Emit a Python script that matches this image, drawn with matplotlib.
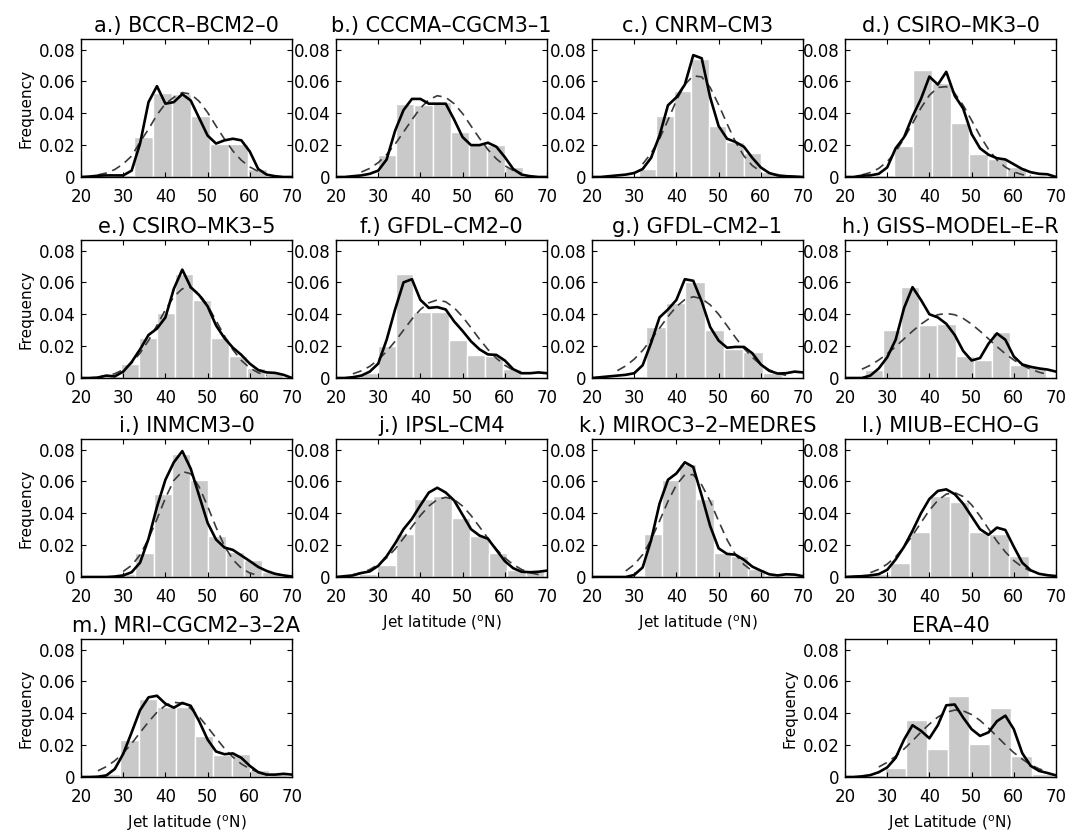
import numpy as np
import matplotlib
matplotlib.use("Agg")
import matplotlib.pyplot as plt

plt.rcParams["font.family"] = ["DejaVu Sans"]

# latitude grid on which the curves were read (deg N)
LAT = list(range(20, 71, 2))

TITLES = [
    "a.) BCCR–BCM2–0", "b.) CCCMA–CGCM3–1", "c.) CNRM–CM3", "d.) CSIRO–MK3–0",
    "e.) CSIRO–MK3–5", "f.) GFDL–CM2–0", "g.) GFDL–CM2–1", "h.) GISS–MODEL–E–R",
    "i.) INMCM3–0", "j.) IPSL–CM4", "k.) MIROC3–2–MEDRES", "l.) MIUB–ECHO–G",
    "m.) MRI–CGCM2–3–2A", "ERA–40",
]

# histogram bin edges and frequencies
EDGES = [
    [28.1, 32.6, 37.1, 41.6, 46.1, 50.6, 55.1, 59.6, 64.1],
    [30.0, 34.3, 38.6, 42.9, 47.2, 51.5, 55.8, 60.1, 64.4],
    [31.1, 35.25, 39.4, 43.55, 47.7, 51.85, 56.0, 60.15, 64.3],
    [27.0, 31.5, 36.0, 40.5, 45.0, 49.5, 54.0, 58.5, 63.0, 67.5],
    [25.3, 29.55, 33.8, 38.05, 42.3, 46.55, 50.8, 55.05, 59.3, 63.55, 67.8],
    [25.6, 29.85, 34.1, 38.35, 42.6, 46.85, 51.1, 55.35, 59.6, 63.85],
    [28.3, 32.9, 37.5, 42.1, 46.7, 51.3, 55.9, 60.5, 65.1],
    [24.7, 29.0, 33.3, 37.6, 41.9, 46.2, 50.5, 54.8, 59.1, 63.4, 67.7],
    [28.6, 32.9, 37.2, 41.5, 45.8, 50.1, 54.4, 58.7, 63.0, 67.3],
    [25.4, 29.8, 34.2, 38.6, 43.0, 47.4, 51.8, 56.2, 60.6, 65.0, 69.4],
    [28.3, 32.4, 36.5, 40.6, 44.7, 48.8, 52.9, 57.0, 61.1, 65.2],
    [26.0, 30.7, 35.4, 40.1, 44.8, 49.5, 54.2, 58.9, 63.6],
    [24.9, 29.3, 33.7, 38.1, 42.5, 46.9, 51.3, 55.7, 60.1, 64.5, 68.9],
    [24.4, 29.4, 34.4, 39.4, 44.4, 49.4, 54.4, 59.4, 64.4, 69.4],
]
BARS = [
    [0.001, 0.025, 0.053, 0.052, 0.038, 0.021, 0.021, 0.005],
    [0.0135, 0.046, 0.045, 0.047, 0.028, 0.020, 0.020, 0.0065],
    [0.005, 0.038, 0.054, 0.074, 0.032, 0.022, 0.015, 0.003],
    [0.0015, 0.0197, 0.067, 0.059, 0.034, 0.0145, 0.011, 0.0065, 0.0015],
    [0.001, 0.0087, 0.025, 0.041, 0.0655, 0.049, 0.025, 0.0135, 0.0062, 0.003],
    [0.003, 0.020, 0.065, 0.0415, 0.0415, 0.024, 0.0145, 0.0135, 0.0055],
    [0.001, 0.032, 0.047, 0.060, 0.030, 0.018, 0.0165, 0.003],
    [0.005, 0.030, 0.057, 0.033, 0.034, 0.0135, 0.011, 0.029, 0.008, 0.007],
    [0.002, 0.015, 0.052, 0.077, 0.061, 0.026, 0.016, 0.0105, 0.003],
    [0.002, 0.0075, 0.027, 0.049, 0.051, 0.037, 0.026, 0.015, 0.0046, 0.004],
    [0.001, 0.027, 0.061, 0.071, 0.049, 0.015, 0.013, 0.005, 0.0015],
    [0.002, 0.0085, 0.028, 0.051, 0.047, 0.028, 0.027, 0.013],
    [0.002, 0.023, 0.049, 0.044, 0.044, 0.026, 0.0135, 0.0142, 0.0045, 0.002],
    [0.001, 0.0055, 0.036, 0.0175, 0.051, 0.021, 0.0435, 0.013, 0.002],
]

# kernel density estimate (solid) read on LAT
KDE = [
    [0, 0.0003, 0.0008, 0.001, 0.001, 0.001, 0.004, 0.021, 0.047, 0.057, 0.046, 0.047, 0.052,
     0.048, 0.037, 0.026, 0.021, 0.023, 0.024, 0.023, 0.016, 0.005, 0.0015, 0.0005, 0, 0],
    [0, 0, 0.0005, 0.001, 0.002, 0.004, 0.011, 0.029, 0.042, 0.049, 0.049, 0.046, 0.046,
     0.046, 0.036, 0.025, 0.020, 0.020, 0.0215, 0.019, 0.0125, 0.005, 0.0015, 0.0005, 0, 0],
    [0, 0, 0.0005, 0.001, 0.0015, 0.0025, 0.005, 0.012, 0.026, 0.045, 0.050, 0.058, 0.0765,
     0.0745, 0.050, 0.032, 0.024, 0.022, 0.019, 0.012, 0.006, 0.0025, 0.001, 0.0005, 0.0003, 0],
    [0, 0, 0.0008, 0.001, 0.002, 0.006, 0.018, 0.025, 0.038, 0.049, 0.063, 0.058, 0.066,
     0.051, 0.043, 0.027, 0.018, 0.014, 0.0118, 0.011, 0.008, 0.005, 0.003, 0.002, 0.0017, 0],
    [0, 0, 0.0003, 0.0015, 0.001, 0.004, 0.010, 0.018, 0.027, 0.031, 0.038, 0.056, 0.068,
     0.057, 0.052, 0.045, 0.033, 0.025, 0.019, 0.0145, 0.009, 0.005, 0.0035, 0.0032, 0.002, 0],
    [0, 0, 0.0005, 0.0015, 0.004, 0.009, 0.024, 0.043, 0.060, 0.062, 0.049, 0.044, 0.0445,
     0.043, 0.0355, 0.0295, 0.023, 0.018, 0.0148, 0.0145, 0.011, 0.0055, 0.003, 0.003, 0.0035, 0.003],
    [0, 0.0005, 0.001, 0.0015, 0.002, 0.003, 0.008, 0.022, 0.038, 0.043, 0.049, 0.062, 0.061,
     0.048, 0.032, 0.0235, 0.019, 0.0195, 0.0195, 0.0155, 0.0085, 0.0045, 0.0028, 0.003, 0.004, 0.0035],
    [0, 0, 0, 0.0015, 0.006, 0.013, 0.024, 0.044, 0.057, 0.049, 0.040, 0.038, 0.034,
     0.027, 0.017, 0.011, 0.0125, 0.0215, 0.028, 0.024, 0.0135, 0.0085, 0.007, 0.006, 0.0053, 0.004],
    [0, 0, 0, 0, 0.0003, 0.001, 0.003, 0.009, 0.024, 0.044, 0.061, 0.072, 0.079,
     0.068, 0.051, 0.034, 0.0235, 0.0185, 0.017, 0.0135, 0.010, 0.0063, 0.0038, 0.002, 0.001, 0.0003],
    [0, 0.0005, 0.001, 0.0025, 0.0035, 0.007, 0.013, 0.021, 0.030, 0.0365, 0.045, 0.053, 0.056,
     0.053, 0.048, 0.039, 0.030, 0.026, 0.024, 0.017, 0.010, 0.0055, 0.0033, 0.003, 0.0033, 0.004],
    [0, 0, 0, 0, 0, 0.0013, 0.006, 0.023, 0.046, 0.061, 0.065, 0.072, 0.069,
     0.051, 0.032, 0.018, 0.0145, 0.014, 0.0108, 0.0065, 0.004, 0.0017, 0.001, 0.0017, 0.0015, 0.0005],
    [0, 0.0003, 0.0005, 0.001, 0.0018, 0.0045, 0.011, 0.019, 0.029, 0.040, 0.049, 0.054, 0.055,
     0.052, 0.046, 0.038, 0.030, 0.0265, 0.031, 0.0295, 0.019, 0.009, 0.0042, 0.002, 0.0011, 0.0006],
    [0, 0, 0.0002, 0.001, 0.005, 0.0145, 0.028, 0.042, 0.050, 0.051, 0.046, 0.0435, 0.0465,
     0.0447, 0.035, 0.0235, 0.016, 0.0143, 0.0148, 0.012, 0.007, 0.003, 0.0015, 0.0015, 0.002, 0.0015],
    [0, 0, 0.0004, 0.0012, 0.003, 0.006, 0.012, 0.0235, 0.0325, 0.029, 0.0243, 0.0325, 0.045,
     0.0455, 0.0373, 0.030, 0.0258, 0.028, 0.035, 0.0385, 0.030, 0.015, 0.007, 0.0038, 0.0025, 0.001],
]

# normal fit (dashed): first latitude of the drawn part, then values every 2 deg
FIT_FROM = [24, 26, 32, 24, 24, 24, 26, 24, 30, 24, 28, 26, 24, 28]
FIT = [
    [0.0013, 0.0025, 0.0047, 0.0082, 0.0132, 0.022, 0.030, 0.039, 0.046, 0.050, 0.053,
     0.052, 0.0475, 0.0405, 0.032, 0.0238, 0.0163, 0.0105, 0.0063, 0.0035, 0.0018],
    [0.0031, 0.0054, 0.009, 0.0141, 0.0206, 0.0282, 0.036, 0.0432, 0.0485, 0.051,
     0.050, 0.046, 0.0398, 0.032, 0.0243, 0.0172, 0.0114, 0.0071, 0.0041, 0.0022],
    [0.0081, 0.0148, 0.024, 0.0357, 0.048, 0.058, 0.0635, 0.0628, 0.0562, 0.0454,
     0.0334, 0.022, 0.0132, 0.0071, 0.0035],
    [0.0013, 0.0028, 0.0054, 0.0096, 0.0158, 0.0242, 0.0336, 0.0433, 0.0513, 0.0562, 0.0567,
     0.0526, 0.045, 0.0356, 0.0258, 0.0174, 0.0107, 0.0062, 0.0032, 0.0015, 0.0007],
    [0.0006, 0.0013, 0.0027, 0.0052, 0.0094, 0.0156, 0.0235, 0.033, 0.0428, 0.051, 0.056,
     0.0567, 0.0528, 0.0456, 0.036, 0.0264, 0.0177, 0.011, 0.0063, 0.0033, 0.0016],
    [0.0026, 0.0045, 0.0073, 0.0114, 0.0167, 0.023, 0.030, 0.037, 0.043, 0.0472, 0.049,
     0.0478, 0.0441, 0.0384, 0.0315, 0.0244, 0.0179, 0.0124, 0.008, 0.0049, 0.0028],
    [0.0046, 0.0076, 0.0118, 0.0173, 0.024, 0.0313, 0.0385, 0.0448, 0.0492, 0.051,
     0.0498, 0.0459, 0.040, 0.0328, 0.0254, 0.0186, 0.0129, 0.0084, 0.0051, 0.003, 0.0016],
    [0.0055, 0.008, 0.0113, 0.0152, 0.0197, 0.0246, 0.0294, 0.0338, 0.0374, 0.0397, 0.0405,
     0.0397, 0.0374, 0.0338, 0.0294, 0.0246, 0.0197, 0.0152, 0.0113, 0.008, 0.0055, 0.0036, 0.0023],
    [0.0035, 0.0073, 0.0139, 0.024, 0.0363, 0.0495, 0.0606, 0.0662, 0.0648, 0.0565,
     0.0444, 0.0312, 0.0194, 0.0109, 0.0055, 0.0025, 0.001],
    [0.0015, 0.0027, 0.0047, 0.0078, 0.012, 0.0175, 0.0243, 0.0315, 0.0386, 0.0445, 0.0486,
     0.050, 0.0486, 0.0445, 0.0386, 0.0315, 0.0243, 0.0175, 0.012, 0.0078, 0.0047, 0.0027, 0.0015],
    [0.0038, 0.0078, 0.014, 0.0234, 0.0351, 0.0475, 0.0578, 0.0642, 0.0642, 0.0578,
     0.0475, 0.0351, 0.0234, 0.014, 0.0078, 0.0038],
    [0.0027, 0.0048, 0.0081, 0.0127, 0.0188, 0.0261, 0.0341, 0.0419, 0.0481, 0.052,
     0.0529, 0.0505, 0.0453, 0.0382, 0.0302, 0.0225, 0.0157, 0.0103, 0.0063, 0.0037],
    [0.0039, 0.0065, 0.0102, 0.015, 0.021, 0.0279, 0.0346, 0.0406, 0.0449, 0.0469, 0.0462,
     0.043, 0.0378, 0.0313, 0.0245, 0.0179, 0.0125, 0.0082, 0.0051, 0.003, 0.0016],
    [0.0063, 0.0092, 0.013, 0.0176, 0.0227, 0.0282, 0.0332, 0.0376, 0.0406, 0.042, 0.0415,
     0.0392, 0.0355, 0.0307, 0.0255, 0.0202, 0.0153, 0.0112, 0.0077, 0.0051, 0.0033],
]

XLABELS = {9: "Jet latitude ($^{\\rm o}$N)", 10: "Jet latitude ($^{\\rm o}$N)",
           12: "Jet latitude ($^{\\rm o}$N)", 13: "Jet Latitude ($^{\\rm o}$N)"}
YTICKS = [0, 0.02, 0.04, 0.06, 0.08]
YTICKLABELS = ["0", "0.02", "0.04", "0.06", "0.08"]

# layout (pixels of a 1070x832 canvas)
W, H = 1070, 832
COL_LEFT = [81, 336, 592, 845]
ROW_TOP = [39, 240, 439, 639]
AX_W, AX_H = 211, 138
SLOTS = [(r, c) for r in range(3) for c in range(4)] + [(3, 0), (3, 3)]

fig = plt.figure(figsize=(W / 100, H / 100), dpi=100)
fig.patch.set_facecolor("white")

for i, (r, c) in enumerate(SLOTS):
    left = COL_LEFT[c] / W
    bottom = 1 - (ROW_TOP[r] + AX_H) / H
    ax = fig.add_axes([left, bottom, AX_W / W, AX_H / H])

    edges = np.array(EDGES[i])
    ax.bar(edges[:-1], BARS[i], width=np.diff(edges), align="edge",
           color="#c9c9c9", edgecolor="white", linewidth=1.0, zorder=1)

    x_fit = LAT[LAT.index(FIT_FROM[i]):LAT.index(FIT_FROM[i]) + len(FIT[i])]
    ax.plot(x_fit, FIT[i], color="#3a3a3a", lw=1.2, dashes=(5.5, 3.5), zorder=2)
    ax.plot(LAT, KDE[i], color="black", lw=1.9, zorder=3,
            solid_joinstyle="round")

    ax.set_xlim(20, 70)
    ax.set_ylim(0, 0.0866)
    ax.set_xticks(range(20, 71, 10))
    ax.set_yticks(YTICKS)
    ax.set_yticklabels(YTICKLABELS)
    ax.tick_params(direction="in", top=True, right=True, length=3.5, width=0.8,
                   labelsize=12)
    ax.tick_params(axis="x", pad=8)
    ax.tick_params(axis="y", pad=4)
    for sp in ax.spines.values():
        sp.set_linewidth(1.0)

    ax.set_title(TITLES[i], fontsize=15, pad=5)
    if c == 0 or i == 13:
        ax.set_ylabel("Frequency", fontsize=11)
    if i in XLABELS:
        ax.set_xlabel(XLABELS[i], fontsize=11, labelpad=5)

fig.savefig("out.png", dpi=100, facecolor="white")
